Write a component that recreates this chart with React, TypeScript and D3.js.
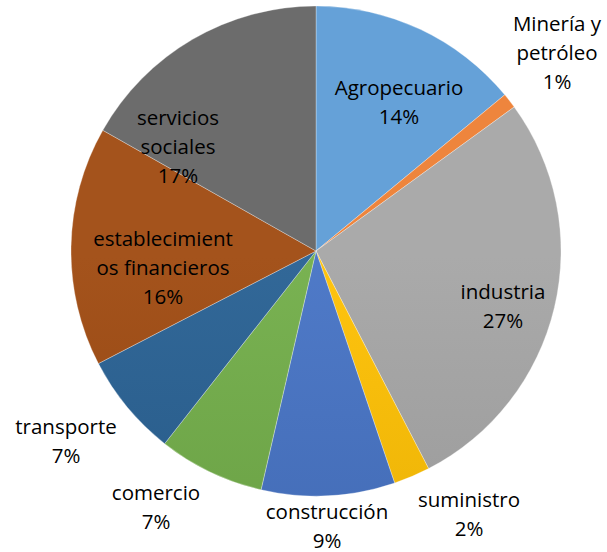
import React from "react";
import * as d3 from "d3";

const categories = [
  "Agropecuario",
  "Minería y petróleo",
  "industria",
  "suministro",
  "construcción",
  "comercio",
  "transporte",
  "establecimientos financieros",
  "servicios sociales",
];
const values = [14.0, 1.0, 27.4, 2.4, 8.8, 7.0, 6.8, 15.8, 16.8];
const labelLines = [
  ["Agropecuario"],
  ["Minería y", "petróleo"],
  ["industria"],
  ["suministro"],
  ["construcción"],
  ["comercio"],
  ["transporte"],
  ["establecimient", "os financieros"],
  ["servicios", "sociales"],
];
const baseColors = [
  "#5B9BD5",
  "#ED7D31",
  "#A5A5A5",
  "#FFC000",
  "#4472C4",
  "#70AD47",
  "#255E91",
  "#9E480E",
  "#636363",
];
// label anchor (center of text block), in px
const labelPos: [number, number][] = [
  [399, 102],
  [557, 53],
  [503, 306],
  [469, 514],
  [327, 526],
  [156, 507],
  [66, 441],
  [163, 268],
  [178, 147],
];

const W = 607;
const H = 552;
const cx = 316;
const cy = 251;
const R = 245;
const lineH = 29;

export default function App() {
  const pie = d3.pie<number>().value((d) => d).sort(null);
  const arcs = pie(values);
  const arc = d3.arc<d3.PieArcDatum<number>>().innerRadius(0).outerRadius(R);
  const total = d3.sum(values);

  return (
    <svg
      width={W}
      height={H}
      style={{ position: "absolute", left: 0, top: 0 }}
      fontFamily="'Open Sans', Lato, sans-serif"
    >
      <defs>
        {baseColors.map((c, i) => {
          const top = d3.interpolateRgb(c, "#ffffff")(0.06);
          const bot = d3.interpolateRgb(c, "#000000")(0.12);
          return (
            <linearGradient
              key={i}
              id={`g${i}`}
              gradientUnits="userSpaceOnUse"
              x1={0}
              y1={cy - R}
              x2={0}
              y2={cy + R}
            >
              <stop offset="0%" stopColor={top} />
              <stop offset="100%" stopColor={bot} />
            </linearGradient>
          );
        })}
      </defs>
      <rect width={W} height={H} fill="#ffffff" />
      <g transform={`translate(${cx},${cy})`}>
        {arcs.map((a, i) => (
          <path
            key={i}
            d={arc(a) || ""}
            fill={`url(#g${i})`}
            stroke="#ffffff"
            strokeOpacity={0.5}
            strokeWidth={0.6}
          />
        ))}
      </g>
      {arcs.map((a, i) => {
        const lines = [
          ...labelLines[i],
          `${Math.round((values[i] / total) * 100)}%`,
        ];
        const [x, y] = labelPos[i];
        const y0 = y - ((lines.length - 1) * lineH) / 2;
        return (
          <text
            key={i}
            x={x}
            textAnchor="middle"
            fontSize={20.5}
            fill="#000000"
          >
            {lines.map((l, j) => (
              <tspan key={j} x={x} y={y0 + j * lineH} dy="0.35em">
                {l}
              </tspan>
            ))}
          </text>
        );
      })}
    </svg>
  );
}
